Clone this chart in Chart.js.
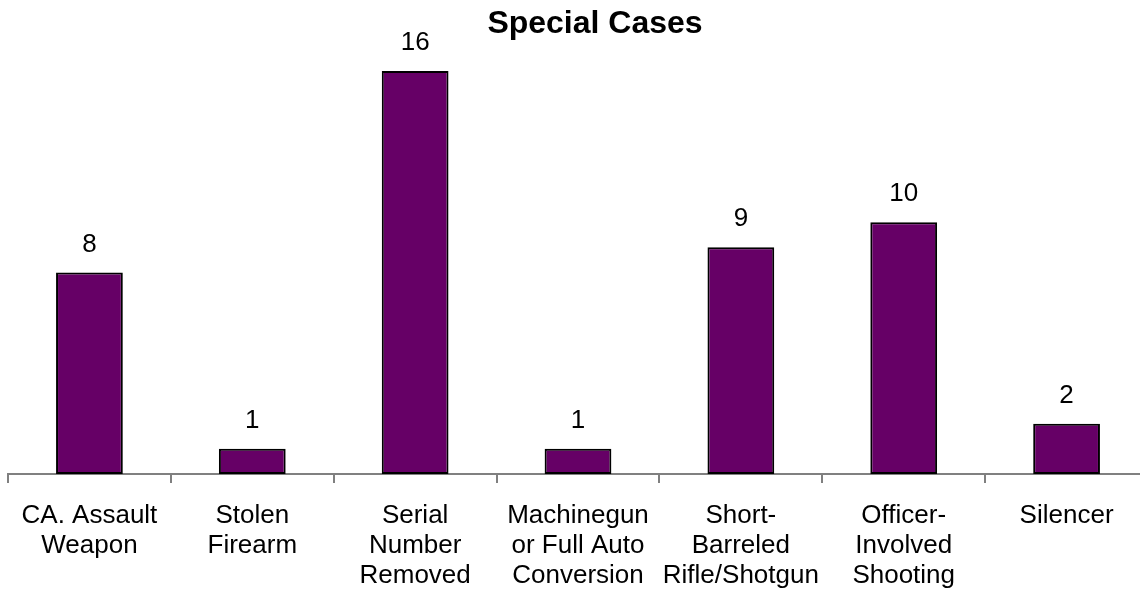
<!DOCTYPE html>
<html>
<head>
<meta charset="utf-8">
<script src="https://cdn.jsdelivr.net/npm/chart.js@4/dist/chart.umd.min.js"></script>
<style>
  body { margin: 0; background: #fff; overflow: hidden; }
  #wrap { width: 1140px; height: 595px; overflow: hidden; }
</style>
</head>
<body>
<div id="wrap"><canvas id="myChart" width="1148" height="595"></canvas></div>
<script type="text/javascript">
  var categories = [
    ['CA. Assault', 'Weapon'],
    ['Stolen', 'Firearm'],
    ['Serial', 'Number', 'Removed'],
    ['Machinegun', 'or Full Auto', 'Conversion'],
    ['Short-', 'Barreled', 'Rifle/Shotgun'],
    ['Officer-', 'Involved', 'Shooting'],
    ['Silencer']
  ];
  var counts = [8, 1, 16, 1, 9, 10, 2];
  var chartTitle = 'Special Cases';

  var fontFamily = "'Liberation Sans', Arial, sans-serif";

  // title + value labels above each bar
  var valueLabels = {
    id: 'valueLabels',
    afterDatasetsDraw: function(chart) {
      var ctx = chart.ctx;
      ctx.save();
      ctx.fillStyle = '#000';
      ctx.textAlign = 'center';
      ctx.textBaseline = 'alphabetic';
      ctx.font = 'bold 32px ' + fontFamily;
      ctx.fillText(chartTitle, 595, 33);
      ctx.font = '26px ' + fontFamily;
      chart.getDatasetMeta(0).data.forEach(function(bar, i) {
        ctx.fillText(counts[i], bar.x, bar.y - 21);
      });
      ctx.restore();
    }
  };

  var ctx = document.getElementById('myChart').getContext('2d');
  var chart = new Chart(ctx, {
    type: 'bar',
    data: {
      labels: categories,
      datasets: [{
        data: counts,
        backgroundColor: '#660066',
        borderColor: '#000000',
        borderWidth: 2,
        borderSkipped: false,
        barPercentage: 0.41,
        categoryPercentage: 1.0
      }]
    },
    options: {
      responsive: false,
      animation: false,
      layout: { padding: { left: 8, right: 0, top: 71, bottom: 0 } },
      plugins: {
        legend: { display: false },
        tooltip: { enabled: false },
        title: { display: false }
      },
      scales: {
        y: {
          display: false,
          min: 0,
          max: 16
        },
        x: {
          offset: true,
          afterFit: function(scale) { scale.height = 121; },
          border: { display: true, color: '#808080', width: 2 },
          grid: {
            offset: true,
            drawOnChartArea: false,
            drawTicks: true,
            tickLength: 9,
            color: '#808080',
            lineWidth: 2
          },
          ticks: {
            color: '#000',
            maxRotation: 0,
            autoSkip: false,
            padding: 18,
            font: { family: fontFamily, size: 26, lineHeight: 1.15 }
          }
        }
      }
    },
    plugins: [valueLabels]
  });
</script>
</body>
</html>
